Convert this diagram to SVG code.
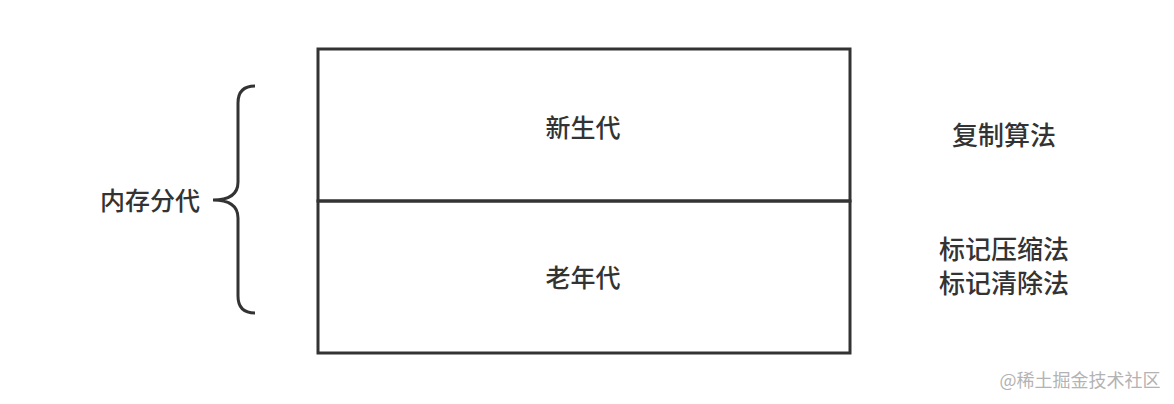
<svg xmlns="http://www.w3.org/2000/svg" width="1174" height="404" viewBox="0 0 1174 404">
<style>
.t{font-family:"Noto Sans CJK SC","Noto Sans",sans-serif;font-size:25px;font-weight:500;fill:#333;text-anchor:middle;dominant-baseline:central}
.b{font-size:26px}
.s{fill:none;stroke:#333;stroke-width:3}
</style>
<rect width="1174" height="404" fill="#fff"/>
<g id="young"><rect class="s" x="318" y="49" width="532" height="152"/><text class="t" x="583" y="126">新生代</text></g>
<g id="old"><rect class="s" x="318" y="201" width="532" height="152"/><text class="t" x="583" y="276">老年代</text></g>
<g id="brace"><path class="s" d="M255,86 Q238,86 238,103 L238,182 Q238,200 213,200 Q238,200 238,218 L238,296 Q238,313 255,313"/></g>
<g id="label"><text class="t" x="150" y="199">内存分代</text></g>
<g id="copy"><text class="t b" x="1004" y="133">复制算法</text></g>
<g id="mark"><text class="t b" x="1004" y="247">标记压缩法</text><text class="t b" x="1004" y="281">标记清除法</text></g>
<g id="connectors"></g>
<text x="1080" y="379" style="font-family:'Noto Sans CJK SC',sans-serif;font-size:18px;fill:#b3b3b3;text-anchor:middle;dominant-baseline:central">@稀土掘金技术社区</text>
</svg>
